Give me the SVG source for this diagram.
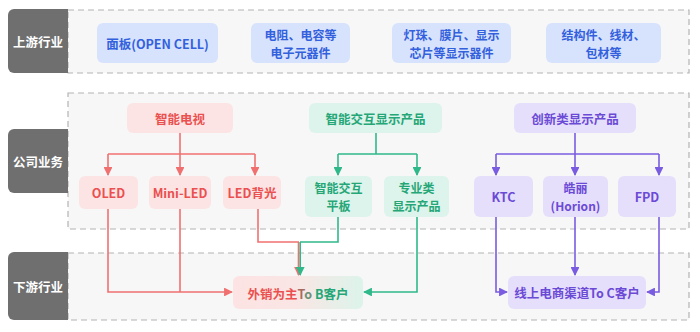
<svg xmlns="http://www.w3.org/2000/svg" width="700" height="332" viewBox="0 0 700 332">
<style>
text{font-family:"Noto Sans CJK SC","Noto Sans",sans-serif;font-size:12.5px;font-weight:600;text-anchor:middle;dominant-baseline:central}
text.s{font-size:12px}
.lab{fill:#6f6f6f}
.labt{fill:#fff;font-weight:700}
.panel{fill:#f7f7f7;stroke:#b3b3b3;stroke-width:1.2;stroke-dasharray:6 4}
.b{fill:#d7e3fd}.bt{fill:#3360dc}
.r{fill:#fde4e4}.rt{fill:#ea5050}
.g{fill:#dcf4eb}.gt{fill:#25a677}
.p{fill:#e6dffb}.pt{fill:#6b4ad6}
.lr{fill:none;stroke:#f07070;stroke-width:1.6}
.lg{fill:none;stroke:#2fb98a;stroke-width:1.6}
.lp{fill:none;stroke:#7a5ce0;stroke-width:1.6}
</style>
<defs>
<marker id="ar" viewBox="0 0 10 10" refX="9" refY="5" markerWidth="5.5" markerHeight="5.5" orient="auto"><path d="M0,0L10,5L0,10z" fill="#f07070"/></marker>
<marker id="ag" viewBox="0 0 10 10" refX="9" refY="5" markerWidth="5.5" markerHeight="5.5" orient="auto"><path d="M0,0L10,5L0,10z" fill="#2fb98a"/></marker>
<marker id="ap" viewBox="0 0 10 10" refX="9" refY="5" markerWidth="5.5" markerHeight="5.5" orient="auto"><path d="M0,0L10,5L0,10z" fill="#7a5ce0"/></marker>
<linearGradient id="tob" x1="0" y1="0" x2="1" y2="0"><stop offset="0" stop-color="#fde3e3"/><stop offset="0.5" stop-color="#f9e6e4"/><stop offset="1" stop-color="#dcf4eb"/></linearGradient>
</defs>
<rect width="700" height="332" fill="#fff"/>
<g id="panels">
<rect class="panel" x="68" y="10" width="621" height="63"/>
<rect class="panel" x="68" y="93" width="621" height="136"/>
<rect class="panel" x="68" y="253" width="621" height="67"/>
</g>
<g id="lab-up"><path class="lab" d="M68,9H14a6,6 0 0 0-6,6V67a6,6 0 0 0 6,6H68z"/><text class="labt" x="38" y="41">上游行业</text></g>
<g id="lab-co"><path class="lab" d="M68,129H14a6,6 0 0 0-6,6V187a6,6 0 0 0 6,6H68z"/><text class="labt" x="38" y="161">公司业务</text></g>
<g id="lab-down"><path class="lab" d="M68,252H14a6,6 0 0 0-6,6V314a6,6 0 0 0 6,6H68z"/><text class="labt" x="38" y="286">下游行业</text></g>
<g id="n-panel"><rect class="b" x="97" y="23" width="121" height="40" rx="6"/><text class="bt" x="157.5" y="43">面板(OPEN CELL)</text></g>
<g id="n-res"><rect class="b" x="251" y="23" width="99" height="40" rx="6"/><text class="bt s" x="300.5" y="34">电阻、电容等</text><text class="bt s" x="300.5" y="52">电子元器件</text></g>
<g id="n-led"><rect class="b" x="392" y="23" width="119" height="40" rx="6"/><text class="bt s" x="451.5" y="34">灯珠、膜片、显示</text><text class="bt s" x="451.5" y="52">芯片等显示器件</text></g>
<g id="n-str"><rect class="b" x="546" y="23" width="115" height="40" rx="6"/><text class="bt s" x="603.5" y="34">结构件、线材、</text><text class="bt s" x="603.5" y="52">包材等</text></g>
<g id="n-tv"><rect class="r" x="127" y="103" width="106" height="30" rx="6"/><text class="rt" x="180" y="118">智能电视</text></g>
<g id="n-ia"><rect class="g" x="309" y="103" width="133" height="30" rx="6"/><text class="gt" x="375.5" y="118">智能交互显示产品</text></g>
<g id="n-inn"><rect class="p" x="514" y="103" width="122" height="30" rx="6"/><text class="pt" x="575" y="118">创新类显示产品</text></g>
<g id="n-oled"><rect class="r" x="79" y="176" width="59" height="33" rx="6"/><text class="rt" x="108.5" y="192.5">OLED</text></g>
<g id="n-mini"><rect class="r" x="149" y="176" width="62" height="33" rx="6"/><text class="rt" x="180" y="192.5">Mini-LED</text></g>
<g id="n-bl"><rect class="r" x="223" y="176" width="58" height="33" rx="6"/><text class="rt" x="252" y="192.5">LED背光</text></g>
<g id="n-pad"><rect class="g" x="305" y="176" width="67" height="41" rx="6"/><text class="gt s" x="338.5" y="187.8">智能交互</text><text class="gt s" x="338.5" y="205.3">平板</text></g>
<g id="n-pro"><rect class="g" x="384" y="176" width="65" height="41" rx="6"/><text class="gt s" x="416.5" y="187.8">专业类</text><text class="gt s" x="416.5" y="205.3">显示产品</text></g>
<g id="n-ktc"><rect class="p" x="474" y="176" width="59" height="41" rx="6"/><text class="pt" x="503.5" y="196.5">KTC</text></g>
<g id="n-hor"><rect class="p" x="543" y="176" width="65" height="41" rx="6"/><text class="pt s" x="575.5" y="187.8">皓丽</text><text class="pt s" x="575.5" y="205.3">(Horion)</text></g>
<g id="n-fpd"><rect class="p" x="618" y="176" width="58" height="41" rx="6"/><text class="pt" x="647" y="196.5">FPD</text></g>
<g id="n-tob"><rect x="233" y="276" width="130" height="33" rx="6" fill="url(#tob)"/><text x="298" y="292.5"><tspan fill="#ea5050">外销为主</tspan><tspan fill="#a86a5e">T</tspan><tspan fill="#6f8f78">o </tspan><tspan fill="#25a677">B客户</tspan></text></g>
<g id="n-toc"><rect class="p" x="508" y="276" width="138" height="33" rx="6"/><text class="pt" x="577" y="292.5">线上电商渠道To C客户</text></g>
<g id="connectors">
<path class="lr" d="M180,133V154"/>
<path class="lr" d="M108,154H255"/>
<path class="lr" d="M108,154V175" marker-end="url(#ar)"/>
<path class="lr" d="M180,154V175" marker-end="url(#ar)"/>
<path class="lr" d="M255,154V175" marker-end="url(#ar)"/>
<path class="lr" d="M108,209V292H232" marker-end="url(#ar)"/>
<path class="lr" d="M180,209V292"/>
<path class="lr" d="M258,209V242H299"/>
<path class="lr" d="M298.5,242V275" marker-end="url(#ar)"/>
<path class="lg" d="M338,217V242H300"/>
<path class="lg" d="M300.2,242V275" marker-end="url(#ag)"/>
<path class="lg" d="M376,133V154"/>
<path class="lg" d="M338,154H417"/>
<path class="lg" d="M338,154V175" marker-end="url(#ag)"/>
<path class="lg" d="M417,154V175" marker-end="url(#ag)"/>
<path class="lg" d="M417,217V292H364" marker-end="url(#ag)"/>
<path class="lp" d="M575,133V154"/>
<path class="lp" d="M496,154H659"/>
<path class="lp" d="M496,154V175" marker-end="url(#ap)"/>
<path class="lp" d="M575,154V175" marker-end="url(#ap)"/>
<path class="lp" d="M659,154V175" marker-end="url(#ap)"/>
<path class="lp" d="M496,217V292H507" marker-end="url(#ap)"/>
<path class="lp" d="M575,217V275" marker-end="url(#ap)"/>
<path class="lp" d="M659,217V292H647" marker-end="url(#ap)"/>
</g>
</svg>
